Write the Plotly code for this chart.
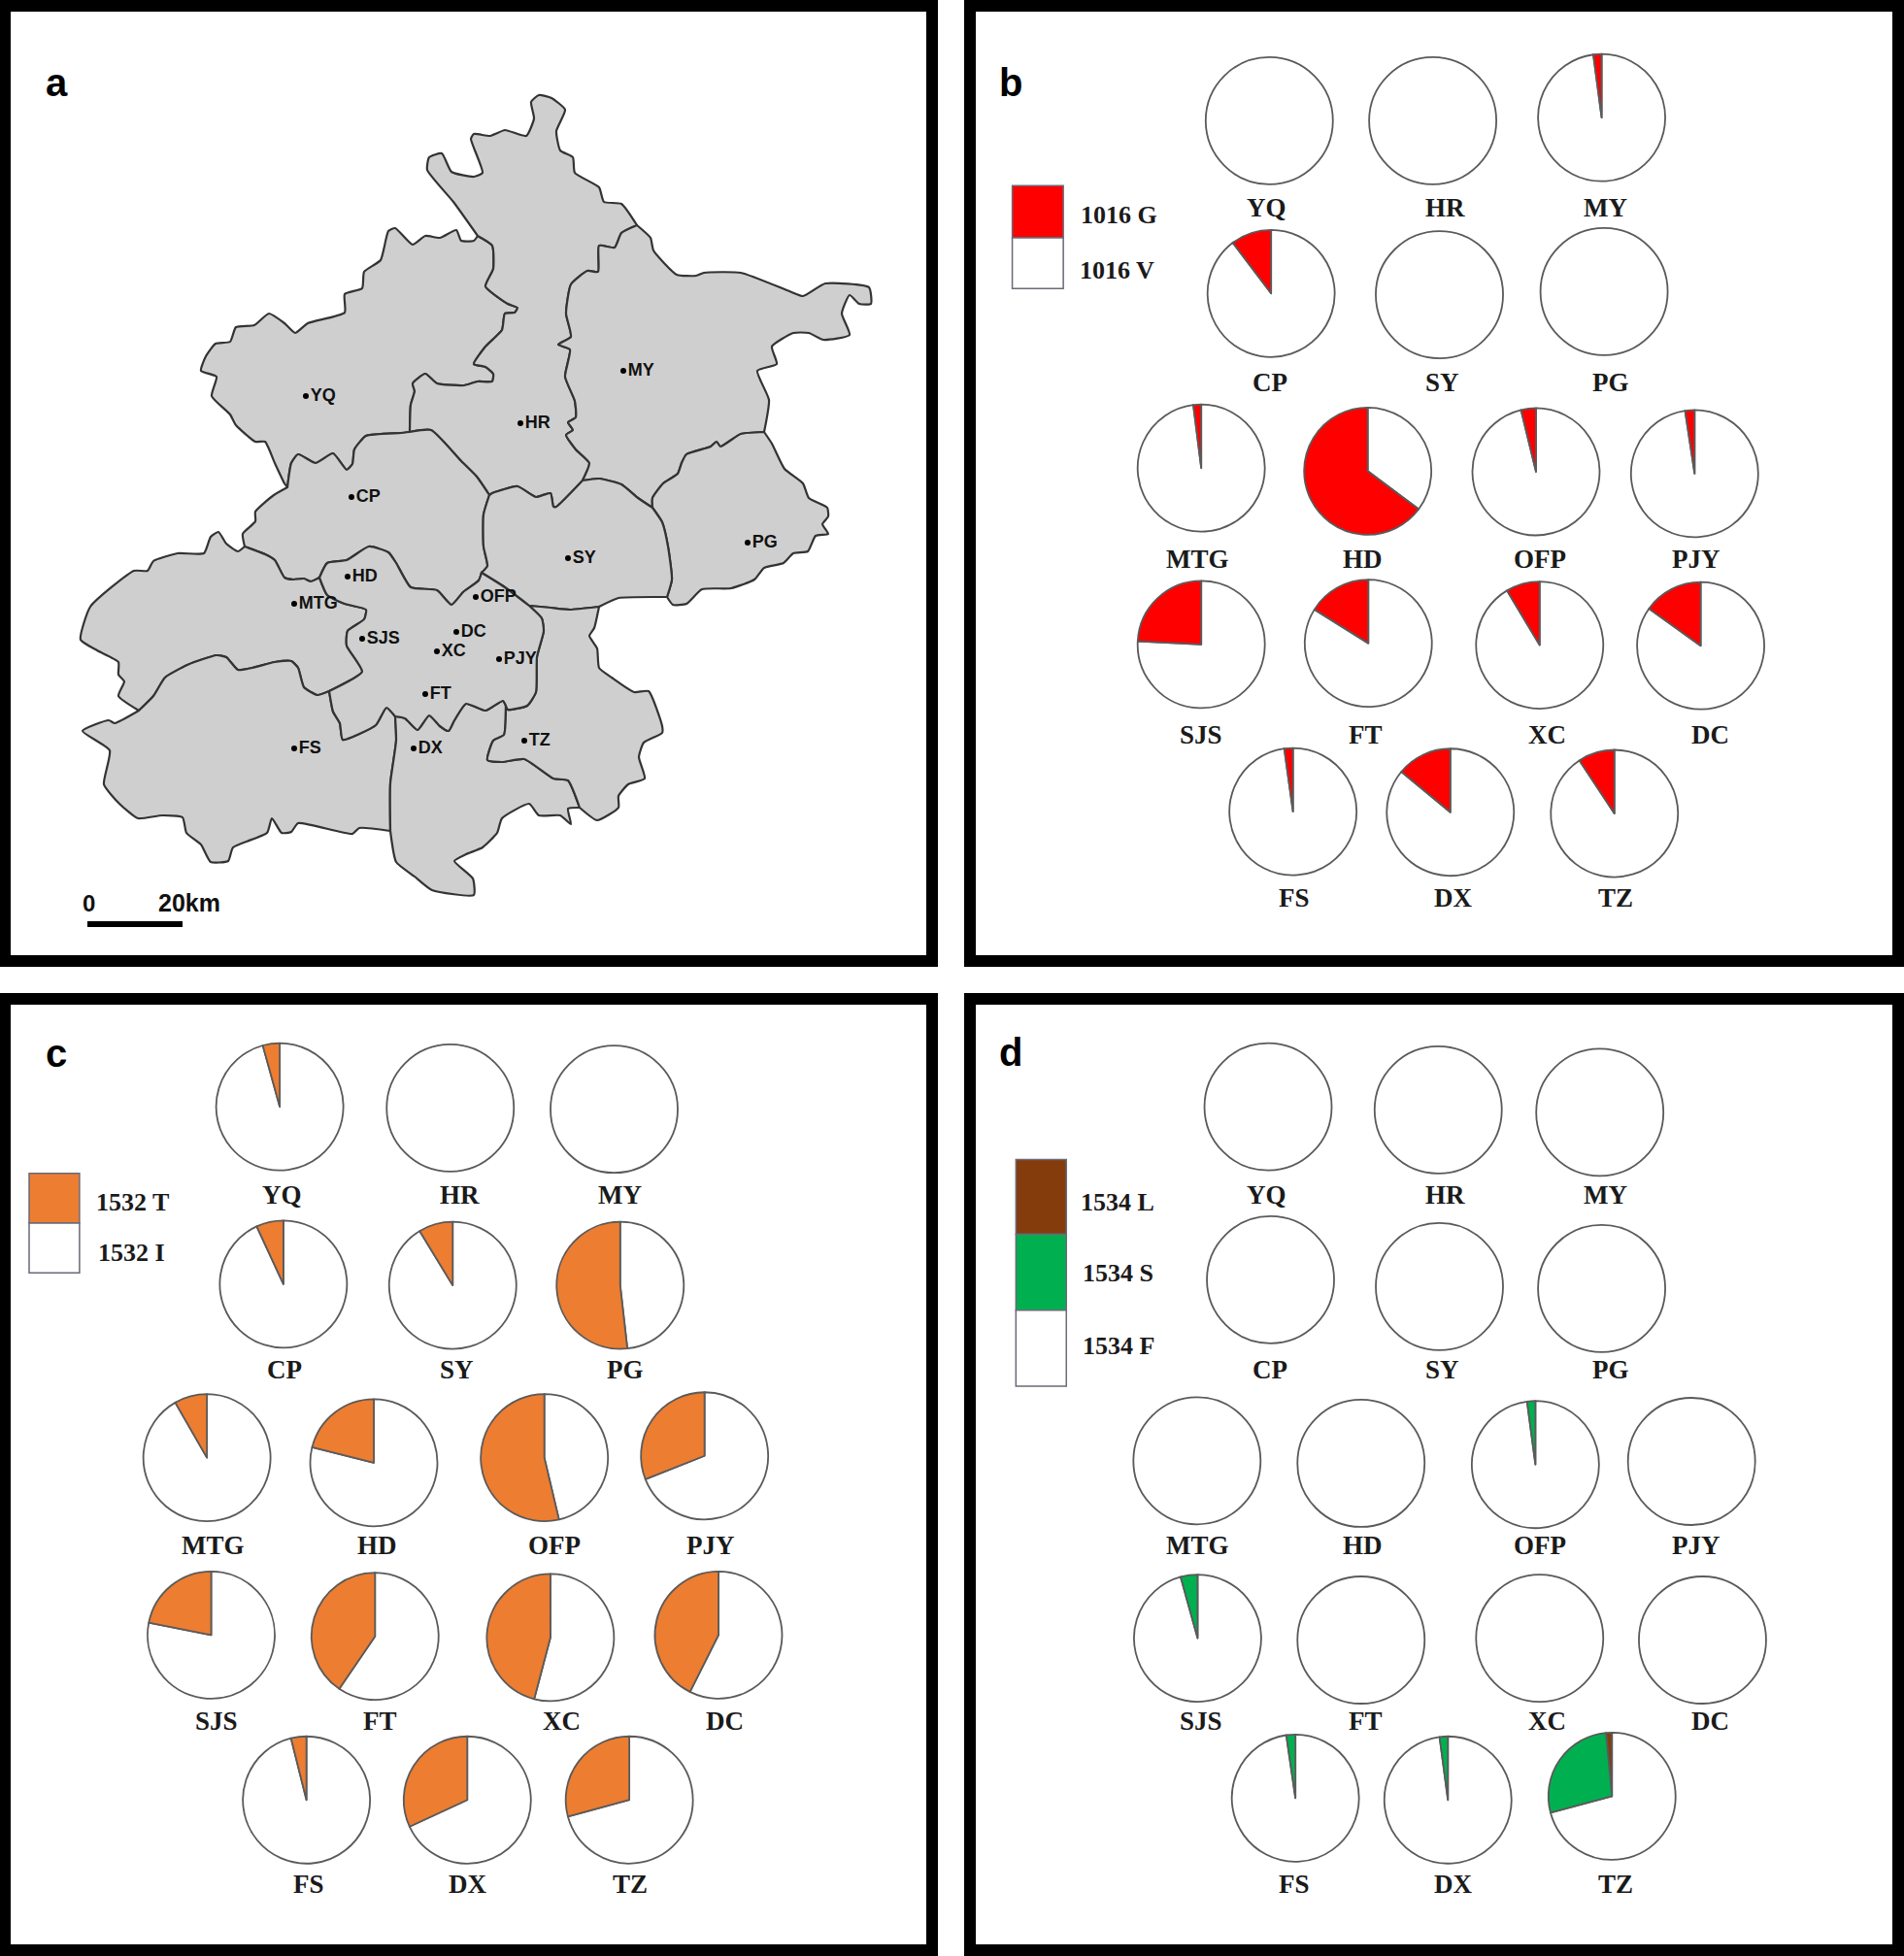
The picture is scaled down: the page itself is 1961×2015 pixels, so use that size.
import plotly.graph_objects as go

W, H = 1961, 2015

# ---------------- data ----------------
sites = ["YQ", "HR", "MY", "CP", "SY", "PG", "MTG", "HD", "OFP", "PJY", "SJS", "FT", "XC", "DC", "FS", "DX", "TZ"]

# allele frequencies, percent, same order as sites
g1016 = [0, 0, 2.1, 10.3, 0, 0, 2.0, 64.8, 3.8, 2.4, 24.2, 16.1, 8.6, 15.1, 2.2, 14.0, 9.3]
t1532 = [4.3, 0, 0, 6.9, 8.7, 51.8, 8.3, 21.1, 53.7, 31.0, 21.9, 40.5, 45.9, 42.6, 3.9, 31.9, 29.2]
l1534 = [0, 0, 0, 0, 0, 0, 0, 0, 0, 0, 0, 0, 0, 0, 0, 0, 1.5]
s1534 = [0, 0, 0, 0, 0, 0, 0, 0, 2.1, 0, 4.3, 0, 0, 0, 2.3, 2.1, 27.7]

# map site markers
map_sites = ["YQ", "MY", "HR", "CP", "HD", "MTG", "SJS", "DC", "XC", "FT", "FS", "DX", "SY", "PG", "OFP", "PJY", "TZ"]
map_x = [315, 642, 536, 362, 358, 303, 373, 470, 450, 438, 303, 426, 585, 770, 490, 514, 540]
map_y = [408, 382, 436, 512, 594, 622, 658, 651, 671, 715, 771, 771, 575, 559, 615, 679, 763]

# boundary stretches of the districts
YQ_OUT = [(296,502),(293,498),(283,477),(273,455),(263,455),(243,438),(237,427),(218,408),(223,388),(207,382),(212,367),(222,354),(237,352),(243,337),(262,335),(277,323),(293,333),(304,343),(317,333),(355,322),(355,303),(373,297),(375,280),(392,268),(400,238),(407,235),(425,252),(438,243),(453,245),(470,237),(475,248),(488,248),(492,243)]
HR_OUT = [(492,243),(467,208),(440,175),(442,162),(455,158),(465,177),(488,182),(497,178),(485,143),(488,138),(505,140),(520,134),(542,140),(550,122),(547,105),(555,98),(568,101),(582,113),(573,135),(577,155),(590,162),(592,178),(617,193),(622,208),(640,210),(656,232)]
MY_OUT = [(656,232),(670,245),(673,258),(697,283),(717,284),(725,281),(763,281),(813,300),(827,305),(850,292),(895,296),(897,313),(885,313),(875,304),(867,323),(875,345),(848,350),(833,343),(817,343),(795,357),(800,375),(780,382),(792,412),(787,445)]
PG_OUT = [(787,445),(795,457),(808,483),(827,498),(833,513),(852,523),(853,532),(847,540),(853,550),(840,552),(832,568),(817,570),(807,580),(787,585),(777,597),(753,606),(723,607),(707,622),(693,623),(687,615)]
SY_OUT = [(687,615),(680,615),(637,616),(617,625)]
TZ_OUT = [(617,625),(612,647),(607,655),(615,668),(617,688),(630,698),(653,713),(668,712),(682,748),(682,755),(663,765),(658,780),(664,802),(647,808),(637,820),(637,832),(615,845),(597,832)]
DX_OUT = [(597,832),(585,833),(588,849),(577,840),(555,840),(545,828),(517,843),(512,858),(497,873),(480,880),(468,887),(487,905),(488,922),(445,917),(427,903),(408,888),(402,856)]
FS_OUT = [(402,856),(370,853),(363,859),(307,848),(300,857),(290,858),(280,843),(275,858),(240,873),(235,887),(217,888),(207,870),(192,858),(188,842),(167,840),(142,843),(123,828),(107,808),(113,773),(85,753),(112,742),(118,745),(143,732)]
MTG_OUT = [(143,732),(122,717),(128,702),(122,695),(122,682),(100,670),(83,659),(93,625),(138,588),(152,588),(158,578),(183,570),(210,570),(217,553),(225,548),(233,560),(245,568),(252,563)]
CP_OUT = [(252,563),(250,550),(263,537),(263,527),(282,510),(296,502)]
YQ_HR = [(492,243),(507,253),(508,277),(500,295),(523,313),(533,317),(530,322),(520,323),(517,340),(500,357),(488,375),(500,378),(508,385),(507,393),(492,393),(478,397),(450,395),(438,385),(425,395),(427,403),(423,417),(422,445)]
YQ_CP = [(422,445),(413,446),(377,449),(365,463),(363,478),(357,484),(343,467),(325,477),(307,468),(300,477),(296,502)]
HR_MY = [(656,232),(640,240),(633,255),(617,253),(616,280),(605,279),(588,293),(583,323),(588,347),(575,355),(587,360),(582,388),(592,413),(593,430),(585,435),(590,443),(583,448),(593,463),(607,477),(600,495)]
HR_SY = [(600,495),(573,522),(570,522),(567,508),(552,512),(533,501),(507,508),(504,510)]
HR_CP = [(422,445),(444,443),(475,475),(491,491),(504,510)]
MY_PG = [(787,445),(763,447),(742,460),(738,455),(732,460),(707,468),(702,477),(698,488),(683,498),(672,513),(672,523)]
MY_SY = [(600,495),(617,493),(640,499),(657,513),(672,523)]
SY_PG = [(672,523),(682,538),(688,563),(692,597),(687,615)]
CP_SY = [(504,510),(498,530),(498,563),(502,583),(496,590)]
CP_MTG = [(252,563),(273,571),(283,577),(293,595),(302,597),(313,596),(320,599),(329,595)]
CP_CE = [(329,595),(337,580),(357,577),(380,563),(400,569),(408,580),(423,605),(450,608),(465,623),(477,610),(493,598),(496,590)]
SY_CE = [(496,590),(520,605),(545,624)]
SY_TZ = [(545,624),(567,626),(587,628),(617,625)]
CE_TZ = [(545,624),(558,637),(560,650),(553,677),(552,713),(543,727),(523,731),(521,727)]
TZ_DX = [(521,727),(519,757),(508,763),(502,783),(517,785),(540,782),(570,802),(585,804),(597,832)]
CE_DX = [(521,727),(518,722),(500,732),(480,725),(468,742),(462,753),(453,748),(442,737),(430,752),(417,740),(407,738)]
FS_CE = [(339,712),(343,733),(350,745),(353,762),(387,747),(398,729),(407,738)]
FS_DX = [(407,738),(408,763),(402,807),(402,856)]
MTG_FS = [(143,732),(158,717),(170,698),(193,685),(223,675),(233,677),(245,690),(260,688),(283,682),(300,681),(307,688),(313,708),(327,716),(339,712)]
MTG_CE = [(329,595),(337,613),(355,622),(377,628),(375,638),(358,650),(357,665),(373,692),(339,712)]

def r(seg):
    return seg[::-1]

districts = [
    YQ_OUT + YQ_HR + YQ_CP,
    HR_OUT + HR_MY + HR_SY + r(HR_CP) + r(YQ_HR),
    MY_OUT + MY_PG + r(MY_SY) + r(HR_MY),
    PG_OUT + r(SY_PG) + r(MY_PG),
    HR_CP + CP_SY + r(CP_CE) + r(CP_MTG) + CP_OUT + r(YQ_CP),
    MY_SY + SY_PG + SY_OUT + r(SY_TZ) + r(SY_CE) + r(CP_SY) + r(HR_SY),
    MTG_OUT + CP_MTG + MTG_CE + r(MTG_FS),
    MTG_FS + FS_CE + FS_DX + FS_OUT,
    r(FS_DX) + r(CE_DX) + TZ_DX + DX_OUT,
    SY_TZ + TZ_OUT + r(TZ_DX) + r(CE_TZ),
    CP_CE + SY_CE + CE_TZ + CE_DX + r(FS_CE) + r(MTG_CE),
]

# ---------------- pie placement ----------------
RADIUS = 65.5
b_cx = [523, 792, 1070, 526, 803, 1074, 411, 685, 962, 1223, 411, 686, 968, 1233, 562, 821, 1091]
b_cy = [195, 195, 190, 474, 476, 471, 756, 761, 762, 765, 1041, 1039, 1042, 1043, 1311, 1312, 1314]
b_lx = [519, 812, 1076, 524, 807, 1085, 405, 676, 969, 1226, 411, 681, 980, 1249, 564, 826, 1093]
b_ly = [336, 336, 336, 618, 618, 618, 903, 903, 903, 903, 1187, 1187, 1187, 1187, 1450, 1450, 1450]
c_cx = [461, 742, 1012, 467, 746, 1022, 341, 616, 897, 1161, 348, 618, 907, 1184, 505, 770, 1037]
c_cy = [203, 205, 207, 488, 490, 490, 767, 775, 767, 764, 1052, 1054, 1056, 1052, 1317, 1317, 1317]
c_lx = [464, 757, 1021, 469, 752, 1031, 351, 621, 914, 1171, 356, 626, 925, 1195, 509, 771, 1038]
c_ly = [345, 345, 345, 625, 625, 625, 908, 908, 908, 908, 1190, 1190, 1190, 1190, 1452, 1452, 1452]
d_cx = [521, 801, 1067, 525, 803, 1070, 404, 674, 961, 1218, 405, 674, 968, 1236, 566, 817, 1087]
d_cy = [203, 208, 212, 481, 492, 495, 772, 776, 778, 773, 1057, 1060, 1057, 1060, 1314, 1317, 1311]
d_lx = [519, 812, 1076, 524, 807, 1085, 405, 676, 969, 1226, 411, 681, 980, 1249, 564, 826, 1093]
d_ly = [345, 345, 345, 625, 625, 625, 908, 908, 908, 908, 1190, 1190, 1190, 1190, 1452, 1452, 1452]

PANEL_B = (980, 0, 1.598, 1.568)
PANEL_C = (0, 1010, 1.6, 1.56)
PANEL_D = (980, 1010, 1.598, 1.56)

def to_px(panel, xs, ys):
    ox, oy, sx, sy = panel
    return [ox + x / sx for x in xs], [oy + y / sy for y in ys]

fig = go.Figure()

# ---------------- panel a: the map ----------------
for poly in districts:
    xs = [p[0] for p in poly] + [poly[0][0]]
    ys = [p[1] for p in poly] + [poly[0][1]]
    fig.add_trace(go.Scatter(x=xs, y=ys, mode="lines", fill="toself", fillcolor="#CFCFCF",
                             line=dict(color="#333333", width=2.2, shape="spline", smoothing=0.5),
                             hoverinfo="skip", showlegend=False))

fig.add_trace(go.Scatter(x=map_x, y=map_y, mode="markers+text", text=map_sites, textposition="middle right",
                         marker=dict(color="black", size=6),
                         textfont=dict(family="Liberation Sans", size=18, color="#111111", weight="bold"),
                         showlegend=False, hoverinfo="skip"))

PIE_LINE = dict(color="#5A5A5A", width=1.8)

def add_pies(panel, cx, cy, lx, ly, series, colors):
    px, py = to_px(panel, cx, cy)
    tx, ty = to_px(panel, lx, ly)
    for i, name in enumerate(sites):
        vals = [s[i] for s in series]
        # plotly draws the first slice clockwise of 12 o'clock and the rest counterclockwise,
        # so the white majority allele goes first and the coloured slices follow to the left.
        rest = 100 - sum(vals)
        # zero slices are left out: plotly would stroke them as a radial line
        shown = [(v, c) for v, c in zip(vals, colors) if v > 0]
        values = [rest] + [v for v, _ in shown]
        cols = ["white"] + [c for _, c in shown]
        fig.add_trace(go.Pie(values=values, labels=["a", "b", "c"][:len(values)], sort=False,
                             direction="counterclockwise", rotation=0, textinfo="none",
                             hoverinfo="skip", showlegend=False,
                             marker=dict(colors=cols, line=PIE_LINE),
                             domain=dict(x=[(px[i] - RADIUS) / W, (px[i] + RADIUS) / W],
                                         y=[1 - (py[i] + RADIUS) / H, 1 - (py[i] - RADIUS) / H])))
        fig.add_annotation(x=tx[i], y=ty[i], text=f"<b>{name}</b>", showarrow=False,
                           font=dict(family="Liberation Serif", size=27, color="#1A1A1A"))

add_pies(PANEL_B, b_cx, b_cy, b_lx, b_ly, [g1016], ["#FF0000"])
add_pies(PANEL_C, c_cx, c_cy, c_lx, c_ly, [t1532], ["#ED7D31"])
add_pies(PANEL_D, d_cx, d_cy, d_lx, d_ly, [l1534, s1534], ["#843C0C", "#00B050"])

# ---------------- frames ----------------
shapes = []
for x0, x1, y0, y1 in [(5, 960, 6, 990), (999, 1955, 6, 990), (5, 960, 1029, 2009), (999, 1955, 1029, 2009)]:
    shapes.append(dict(type="rect", xref="x", yref="y", x0=x0, x1=x1, y0=y0, y1=y1,
                       line=dict(color="black", width=12), fillcolor="rgba(0,0,0,0)", layer="below"))

# scale bar
shapes.append(dict(type="line", xref="x", yref="y", x0=90, x1=188, y0=952, y1=952,
                   line=dict(color="black", width=6)))

# ---------------- legends ----------------
def legend(panel, x0, x1, edges, colors, labels, label_pos):
    ox, oy, sx, sy = panel
    for k, col in enumerate(colors):
        shapes.append(dict(type="rect", xref="x", yref="y", x0=ox + x0 / sx, x1=ox + x1 / sx,
                           y0=oy + edges[k] / sy, y1=oy + edges[k + 1] / sy,
                           fillcolor=col, line=dict(color="#6A6A78", width=1.5)))
    for lab, (lxp, lyp) in zip(labels, label_pos):
        fig.add_annotation(x=ox + lxp / sx, y=oy + lyp / sy, text=f"<b>{lab}</b>", showarrow=False,
                           font=dict(family="Liberation Serif", size=26, color="#1A1A1A"))

legend(PANEL_B, 100, 184, [300, 384, 466], ["#FF0000", "white"], ["1016 G", "1016 V"], [(275, 348), (273, 436)])
legend(PANEL_C, 48, 131, [310, 390, 470], ["#ED7D31", "white"], ["1532 T", "1532 I"], [(218, 356), (216, 438)])
legend(PANEL_D, 106, 189, [288, 408, 530, 652], ["#843C0C", "#00B050", "white"],
       ["1534 L", "1534 S", "1534 F"], [(273, 356), (274, 470), (275, 588)])

# ---------------- panel letters and scale text ----------------
for letter, x, y in [("a", 58, 85), ("b", 1041, 85), ("c", 58, 1085), ("d", 1041, 1084)]:
    fig.add_annotation(x=x, y=y, text=f"<b>{letter}</b>", showarrow=False,
                       font=dict(family="Liberation Sans", size=40, color="black"))
fig.add_annotation(x=91, y=930, text="<b>0</b>", showarrow=False,
                   font=dict(family="Liberation Sans", size=24, color="#111111"))
fig.add_annotation(x=195, y=930, text="<b>20km</b>", showarrow=False,
                   font=dict(family="Liberation Sans", size=25, color="#111111"))

fig.update_layout(width=W, height=H, margin=dict(l=0, r=0, t=0, b=0), paper_bgcolor="white",
                  plot_bgcolor="white", shapes=shapes, showlegend=False,
                  xaxis=dict(range=[0, W], visible=False, fixedrange=True),
                  yaxis=dict(range=[H, 0], visible=False, fixedrange=True))

fig.write_html("out.html", config={"displayModeBar": False},
               post_script="document.body.style.margin='0';document.body.style.overflow='hidden';")
